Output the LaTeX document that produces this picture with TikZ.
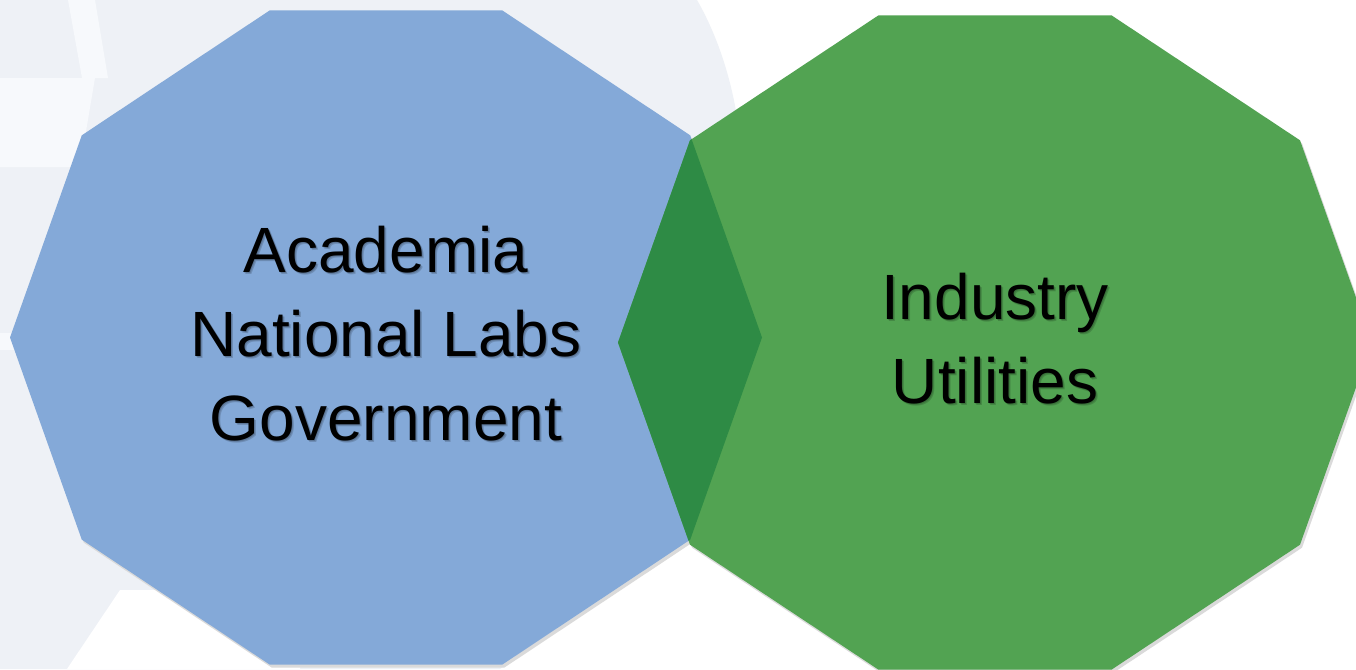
\documentclass[tikz,border=0pt]{standalone}
\usepackage{fontspec}
\setmainfont{Liberation Sans}
\usetikzlibrary{calc}
\definecolor{wmgray}{HTML}{EEF1F6}
\definecolor{wmlight}{HTML}{F7F9FC}
\definecolor{bluefill}{HTML}{84A9D8}
\definecolor{greenfill}{HTML}{52A352}
\definecolor{overlapfill}{HTML}{2E8B45}
\definecolor{shadowgray}{HTML}{DADADA}
\tikzset{
  label text/.style={font=\fontsize{64}{84}\selectfont, align=center, text=black, inner sep=0pt},
  label shadow/.style={label text, text=black, text opacity=0.16},
}
% flattened regular decagon: #1 = centre, #2 = x radius, #3 = y radius
\newcommand\decapath[3]{[shift={#1}] plot[domain=0:324, samples=10] ({#2*cos(\x)},{#3*sin(\x)}) -- cycle}
\begin{document}
\begin{tikzpicture}[x=1pt, y=-1pt]
\useasboundingbox (0,0) rectangle (1356,669);
\fill[white] (0,0) rectangle (1356,669);

% faint watermark in the background
\begin{scope}
  \clip (0,0) rectangle (1356,669);
  \fill[wmgray] (0,0) -- (697,0) .. controls (720,40) and (735,90) .. (740,140)
    -- (740,500) -- (500,669) -- (0,669) -- cycle;
  \fill[wmlight] (68,0) -- (95,0) -- (108,78) -- (82,78) -- cycle;
  \fill[wmlight] (0,78) -- (95,78) -- (80,167) -- (0,167) -- cycle;
  \fill[wmlight] (0,333) -- (60,333) -- (60,350) -- (0,350) -- cycle;
  \fill[white] (67,669) -- (120,590) -- (300,590) -- (300,669) -- cycle;
\end{scope}

% decagon centres
\coordinate (lc) at (386,337.5);
\coordinate (rc) at (995,342.5);
\coordinate (lcs) at (388,340.5);
\coordinate (rcs) at (997,345.5);

% soft drop shadows
\fill[shadowgray] \decapath{(lcs)}{376}{344};
\fill[shadowgray] \decapath{(rcs)}{377}{344};

% the two sets
\fill[bluefill] \decapath{(lc)}{376}{344};
\fill[greenfill] \decapath{(rc)}{377}{344};

% their intersection
\begin{scope}
  \clip \decapath{(lc)}{376}{344};
  \fill[overlapfill] \decapath{(rc)}{377}{344};
\end{scope}

% labels, each with a faint offset shadow
\coordinate (lt) at (386,334);
\coordinate (rt) at (995,338.5);
\node[label shadow] at ($(lt)+(2,2)$) {Academia\\National Labs\\Government};
\node[label shadow] at ($(lt)+(1,1)$) {Academia\\National Labs\\Government};
\node[label text] (left) at (lt) {Academia\\National Labs\\Government};
\node[label shadow] at ($(rt)+(2,2)$) {Industry\\Utilities};
\node[label shadow] at ($(rt)+(1,1)$) {Industry\\Utilities};
\node[label text] (right) at (rt) {Industry\\Utilities};
\end{tikzpicture}
\end{document}
